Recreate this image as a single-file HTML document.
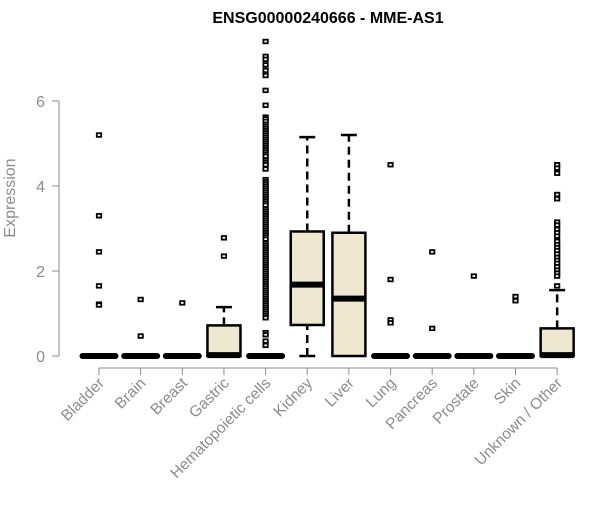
<!DOCTYPE html>
<html><head><meta charset="utf-8"><style>
body{margin:0;background:#fff;}
svg text{font-family:"Liberation Sans",sans-serif;}
</style></head><body>
<svg id="chart" width="600" height="500">
<text x="328" y="23" text-anchor="middle" font-weight="bold" font-size="16">ENSG00000240666 - MME-AS1</text>
<text transform="translate(15,198) rotate(-90)" text-anchor="middle" font-size="16" fill="#8c8c8c">Expression</text>
<g id="yaxis"></g>
<g id="xaxis"></g>
<g id="boxes"></g>
</svg>
<script>
const categories=["Bladder","Brain","Breast","Gastric","Hematopoietic cells","Kidney","Liver","Lung","Pancreas","Prostate","Skin","Unknown / Other"];
const q1=[0,0,0,0,0,0.73,0,0,0,0,0,0];
const med=[0,0,0,0.02,0,1.68,1.35,0,0,0,0,0.02];
const q3=[0,0,0,0.72,0,2.93,2.9,0,0,0,0,0.65];
const whiskLo=[0,0,0,0,0,0,0,0,0,0,0,0];
const whiskHi=[0,0,0,1.15,0,5.15,5.2,0,0,0,0,1.55];
const outliers=[
[5.2,3.3,2.45,1.65,1.22,1.2],
[1.33,0.47],
[1.25],
[2.78,2.35],
[7.4,7.05,6.98,6.85,6.72,6.6,6.25,5.9,5.62,5.58,5.52,5.45,5.4,5.35,5.3,5.25,5.2,5.15,5.1,5.05,5.0,4.95,4.9,4.85,4.8,4.75,4.7,4.6,4.55,4.5,4.4,4.15,4.1,4.05,4.0,3.95,3.9,3.85,3.8,3.75,3.7,3.65,3.6,3.55,3.45,3.4,3.35,3.3,3.25,3.2,3.15,3.1,3.05,3.0,2.95,2.9,2.85,2.8,2.75,2.65,2.6,2.55,2.5,2.45,2.4,2.35,2.3,2.25,2.2,2.15,2.1,2.05,2.0,1.95,1.9,1.85,1.8,1.75,1.7,1.65,1.6,1.55,1.5,1.45,1.4,1.35,1.3,1.25,1.2,1.15,1.1,1.05,1.0,0.95,0.9,0.55,0.5,0.35,0.25],
[],[],
[4.5,1.8,0.85,0.78],
[2.45,0.65],
[1.88],
[1.4,1.3],
[4.5,4.42,4.3,3.8,3.7,3.15,3.08,2.98,2.9,2.82,2.7,2.62,2.55,2.48,2.4,2.32,2.25,2.18,2.1,2.02,1.95,1.88,1.65]
];
const yTicks=[0,2,4,6];
const NS="http://www.w3.org/2000/svg";
const y=v=>356-v*42.5;
const x=i=>99+i*41.65;
function mk(tag,attrs,parent){const e=document.createElementNS(NS,tag);for(const k in attrs)e.setAttribute(k,attrs[k]);parent.appendChild(e);return e;}
const ya=document.getElementById('yaxis');
mk('line',{x1:59,x2:59,y1:y(6),y2:y(0),stroke:'#8c8c8c'},ya);
yTicks.forEach(t=>{
 mk('line',{x1:52,x2:59,y1:y(t),y2:y(t),stroke:'#8c8c8c'},ya);
 const tx=mk('text',{x:45,y:y(t)+6,'text-anchor':'end','font-size':'16',fill:'#8c8c8c'},ya);tx.textContent=t;
 
 
});
const xa=document.getElementById('xaxis');
mk('line',{x1:x(0),x2:x(11),y1:368,y2:368,stroke:'#8c8c8c'},xa);
categories.forEach((c,i)=>{
 mk('line',{x1:x(i),x2:x(i),y1:368,y2:375,stroke:'#8c8c8c'},xa);
 const tx=mk('text',{transform:`translate(${x(i)+6},${384}) rotate(-45)`,'text-anchor':'end','font-size':'15.5',fill:'#8c8c8c'},xa);tx.textContent=c;
 
 
});
const bx=document.getElementById('boxes');
categories.forEach((c,i)=>{
 const g=mk('g',{},bx);
 
 
 const cx=x(i),hw=16.5;
 if(whiskHi[i]>q3[i]){
  mk('line',{x1:cx,x2:cx,y1:y(q3[i]),y2:y(whiskHi[i]),stroke:'#000','stroke-width':2.5,'stroke-dasharray':'8,5'},g);
  mk('line',{x1:cx-8,x2:cx+8,y1:y(whiskHi[i]),y2:y(whiskHi[i]),stroke:'#000','stroke-width':2.5},g);
 }
 if(q1[i]>whiskLo[i]){
  mk('line',{x1:cx,x2:cx,y1:y(whiskLo[i]),y2:y(q1[i]),stroke:'#000','stroke-width':2.5,'stroke-dasharray':'8,5'},g);
  mk('line',{x1:cx-8,x2:cx+8,y1:y(whiskLo[i]),y2:y(whiskLo[i]),stroke:'#000','stroke-width':2.5},g);
 }
 const hasBox=q3[i]>q1[i];
 if(hasBox) mk('rect',{x:cx-hw,y:y(q3[i]),width:hw*2,height:y(q1[i])-y(q3[i]),fill:'#ede8cf',stroke:'#000','stroke-width':2.5},g);
 mk('line',{x1:cx-hw,x2:cx+hw,y1:y(med[i]),y2:y(med[i]),stroke:'#000','stroke-width':6,'stroke-linecap':hasBox?'butt':'round'},g);
 outliers[i].forEach(v=>{
  const p=mk('rect',{x:cx-2.2,y:y(v)-1.8,width:4.4,height:3.6,fill:'#fff',stroke:'#000','stroke-width':1.8},g);
  
  
 });
});
</script>
</body></html>
